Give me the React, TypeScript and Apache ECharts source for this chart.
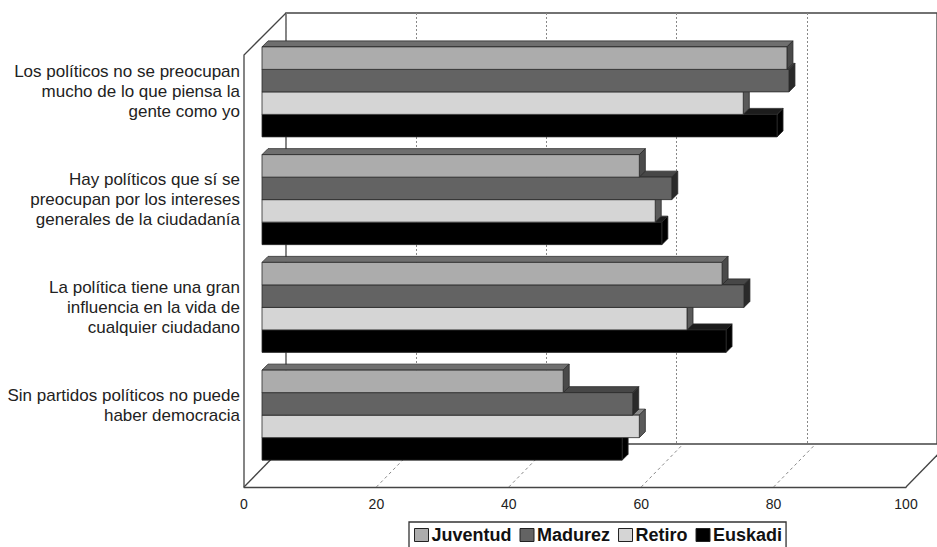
import React, { useEffect, useRef } from "react";
import * as echarts from "echarts";

// Statements (category axis, top to bottom)
const categories: string[] = [
  "Los políticos no se preocupan\nmucho de lo que piensa la\ngente como yo",
  "Hay políticos que sí se\npreocupan por los intereses\ngenerales de la ciudadanía",
  "La política tiene una gran\ninfluencia en la vida de\ncualquier ciudadano",
  "Sin partidos políticos no puede\nhaber democracia",
];

const seriesNames: string[] = ["Juventud", "Madurez", "Retiro", "Euskadi"];

const juventud: number[] = [79.3, 57.0, 69.5, 45.5];
const madurez: number[] = [79.6, 61.9, 72.8, 56.0];
const retiro: number[] = [72.7, 59.4, 64.2, 57.0];
const euskadi: number[] = [77.8, 60.4, 70.1, 54.4];

const xTicks: number[] = [0, 20, 40, 60, 80, 100];

// Face colours: front, top, side
const palette = [
  { front: "#acacac", top: "#6f6f6f", side: "#4a4a4a" },
  { front: "#636363", top: "#474747", side: "#2a2a2a" },
  { front: "#d5d5d5", top: "#8a8a8a", side: "#5a5a5a" },
  { front: "#000000", top: "#1c1c1c", side: "#000000" },
];

// 3D frame layout
const W = 937;
const H = 547;
const SCALE_W = 662; // pixel span of 0..100
const FRONT_X0 = 244;
const BACK_X0 = 286;
const BAR_X0 = 262;
const FRONT_Y = 487;
const BACK_Y = 444;
const BAR_Y = 469;
const BACK_TOP = 13;
const FRONT_TOP = 55;
const DEPTH = 6; // bar depth in pixels
const GROUP_FRACTION = 90 / 107.75;
const LABEL_LINES = 3;

const FONT = "'Liberation Sans', Arial, sans-serif";

export default function App() {
  const ref = useRef<HTMLDivElement>(null);

  useEffect(() => {
    if (!ref.current) return;
    const chart = echarts.init(ref.current, null, { renderer: "svg" });

    const allValues = [juventud, madurez, retiro, euskadi];

    const makeSeries = (k: number) => ({
      type: "custom" as const,
      name: seriesNames[k],
      coordinateSystem: "cartesian2d",
      xAxisIndex: 0,
      yAxisIndex: 0,
      z: 10 - k,
      clip: false,
      itemStyle: { color: palette[k].front },
      encode: { x: 0, y: 1 },
      data: allValues[k].map((v, i) => [v, i]),
      renderItem: (params: any, api: any) => {
        const v = api.value(0);
        const c = api.value(1);
        const p0 = api.coord([0, c]);
        const p1 = api.coord([v, c]);
        const band = api.size([0, 1])[1];
        const groupH = band * GROUP_FRACTION;
        const barH = groupH / seriesNames.length;
        const y = p0[1] - groupH / 2 + k * barH;
        const x0 = p0[0];
        const x1 = p1[0];
        const stroke = "#2a2a2a";
        return {
          type: "group",
          children: [
            {
              type: "polygon",
              shape: {
                points: [
                  [x0, y],
                  [x0 + DEPTH, y - DEPTH],
                  [x1 + DEPTH, y - DEPTH],
                  [x1, y],
                ],
              },
              style: { fill: palette[k].top, stroke, lineWidth: 0.8 },
            },
            {
              type: "polygon",
              shape: {
                points: [
                  [x1, y],
                  [x1 + DEPTH, y - DEPTH],
                  [x1 + DEPTH, y + barH - DEPTH],
                  [x1, y + barH],
                ],
              },
              style: { fill: palette[k].side, stroke, lineWidth: 0.8 },
            },
            {
              type: "rect",
              shape: { x: x0, y, width: x1 - x0, height: barH },
              style: { fill: palette[k].front, stroke, lineWidth: 0.8 },
            },
          ],
        };
      },
    });

    // Floor and side-wall edges
    const frameLine = (pts: number[][], dashed = false) => ({
      type: "polyline",
      z: 1,
      shape: { points: pts },
      style: {
        stroke: dashed ? "#888" : "#444",
        lineWidth: dashed ? 1 : 1.3,
        lineDash: dashed ? [3, 3] : null,
        fill: null,
      },
    });
    const px = (x0: number, v: number) => x0 + (v / 100) * SCALE_W;
    const graphics: any[] = [
      frameLine([
        [FRONT_X0, FRONT_Y],
        [FRONT_X0, FRONT_TOP],
        [BACK_X0, BACK_TOP],
      ]),
      frameLine([
        [FRONT_X0, FRONT_Y],
        [BACK_X0, BACK_Y],
      ]),
      frameLine([
        [px(FRONT_X0, 100), FRONT_Y],
        [px(BACK_X0, 100), BACK_Y],
      ]),
      ...xTicks
        .filter((t) => t > 0 && t < 100)
        .map((t) =>
          frameLine(
            [
              [px(FRONT_X0, t), FRONT_Y],
              [px(BACK_X0, t), BACK_Y],
            ],
            true
          )
        ),
    ];

    chart.setOption({
      animation: false,
      backgroundColor: "#ffffff",
      textStyle: { fontFamily: FONT },
      grid: [
        { left: BAR_X0, top: BAR_Y - 431, width: SCALE_W, height: 431 },
        { left: FRONT_X0, top: FRONT_TOP, width: SCALE_W, height: FRONT_Y - FRONT_TOP },
        {
          left: BACK_X0,
          top: BACK_TOP,
          width: SCALE_W,
          height: BACK_Y - BACK_TOP,
          show: true,
          borderColor: "#444",
          borderWidth: 1.3,
          backgroundColor: "transparent",
          z: 0,
        },
      ],
      xAxis: [
        { gridIndex: 0, type: "value", min: 0, max: 100, show: false },
        {
          gridIndex: 1,
          type: "value",
          min: 0,
          max: 100,
          interval: 20,
          axisLine: { show: true, lineStyle: { color: "#444", width: 1.3 } },
          axisTick: { show: false },
          splitLine: { show: false },
          axisLabel: { color: "#222", fontSize: 14, margin: 10, fontFamily: FONT },
        },
        {
          gridIndex: 2,
          type: "value",
          min: 0,
          max: 100,
          interval: 20,
          axisLine: { show: false },
          axisTick: { show: false },
          axisLabel: { show: false },
          splitLine: { show: true, lineStyle: { color: "#888", type: [2, 2], width: 1 } },
        },
      ],
      yAxis: [
        {
          gridIndex: 0,
          type: "category",
          data: categories,
          inverse: true,
          axisLine: { show: false },
          axisTick: { show: false },
          splitLine: { show: false },
          axisLabel: {
            color: "#222",
            fontSize: 17,
            lineHeight: 20,
            margin: 22,
            align: "right",
            fontFamily: FONT,
            padding: [0, 0, 5, 0],
            // every label occupies a three-line block, shorter ones sit at its top
            formatter: (v: string) => {
              const n = v.split("\n").length;
              return n < LABEL_LINES ? v + "\n ".repeat(LABEL_LINES - n) : v;
            },
          },
        },
        { gridIndex: 1, type: "value", show: false },
        { gridIndex: 2, type: "value", show: false },
      ],
      legend: {
        data: seriesNames,
        left: 409,
        top: 522,
        orient: "horizontal",
        icon: "rect",
        itemWidth: 14,
        itemHeight: 13,
        itemGap: 8,
        padding: [4, 4, 12, 5],
        borderColor: "#333",
        borderWidth: 1.3,
        borderRadius: 0,
        textStyle: {
          color: "#111",
          fontSize: 18,
          fontWeight: "bold",
          fontFamily: FONT,
          padding: [0, 0, 0, -2],
        },
        itemStyle: { borderColor: "#222", borderWidth: 1 },
      },
      graphic: graphics,
      series: [0, 1, 2, 3].map(makeSeries),
    });

    return () => chart.dispose();
  }, []);

  return (
    <div
      ref={ref}
      style={{ position: "fixed", left: 0, top: 0, width: W, height: H, background: "#fff" }}
    />
  );
}
